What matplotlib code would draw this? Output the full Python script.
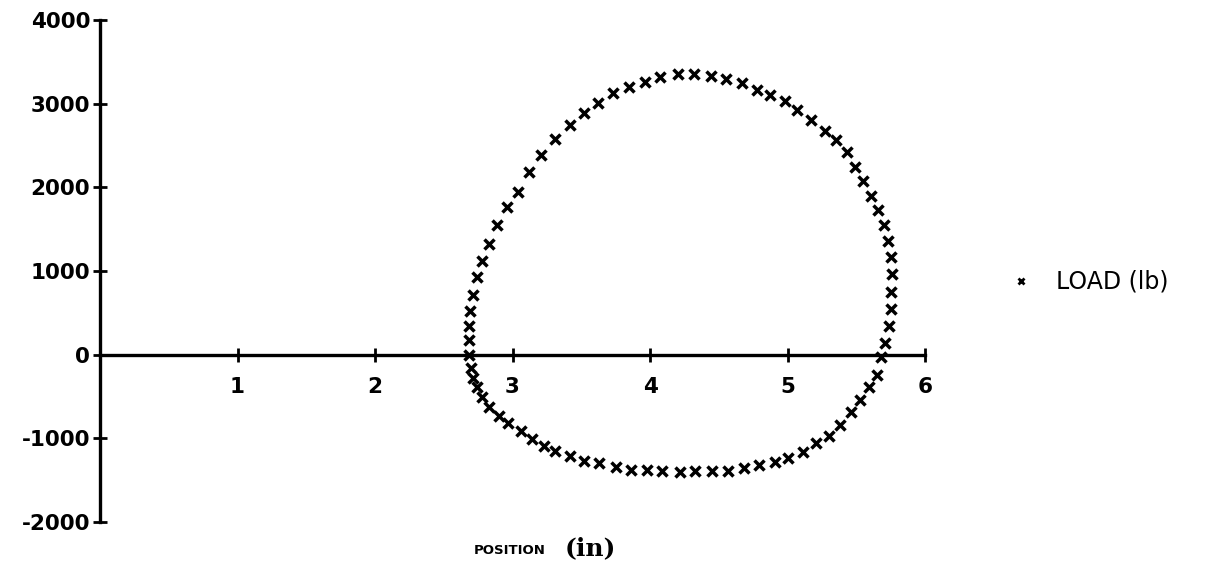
import matplotlib
matplotlib.use("Agg")
import matplotlib.pyplot as plt
from matplotlib.lines import Line2D

# Position (in) and load (lb)
position = [2.68, 2.68, 2.68, 2.69, 2.71, 2.74, 2.78, 2.83, 2.89, 2.96,
            3.04, 3.12, 3.21, 3.31, 3.42, 3.52, 3.62, 3.73, 3.85, 3.96,
            4.07, 4.20, 4.32, 4.44, 4.55, 4.67, 4.78, 4.87, 4.98, 5.07,
            5.17, 5.27, 5.35, 5.43, 5.49, 5.55, 5.61, 5.66, 5.70, 5.73,
            5.75, 5.76, 5.75, 5.75, 5.74, 5.71, 5.68, 5.65, 5.59, 5.53,
            5.46, 5.38, 5.30, 5.21, 5.11, 5.00, 4.91, 4.79, 4.68, 4.57,
            4.45, 4.33, 4.22, 4.09, 3.98, 3.86, 3.75, 3.63, 3.52, 3.42,
            3.31, 3.23, 3.14, 3.06, 2.97, 2.90, 2.83, 2.78, 2.74, 2.71,
            2.70]
load = [0, 176, 339, 526, 714, 925, 1116, 1324, 1555, 1762,
        1950, 2189, 2389, 2572, 2748, 2891, 3006, 3126, 3197, 3257,
        3317, 3349, 3358, 3325, 3289, 3245, 3166, 3106, 3030, 2927,
        2807, 2679, 2560, 2420, 2249, 2073, 1902, 1731, 1555, 1364,
        1172, 965, 754, 547, 347, 140, -30, -239, -391, -542,
        -690, -837, -969, -1061, -1169, -1236, -1280, -1316, -1360, -1388,
        -1396, -1396, -1408, -1396, -1379, -1379, -1348, -1300, -1268, -1217,
        -1154, -1094, -1008, -915, -813, -730, -628, -511, -391, -281,
        -161]

x_ticks = [1, 2, 3, 4, 5, 6]
y_ticks = [-2000, -1000, 0, 1000, 2000, 3000, 4000]
series_label = "LOAD (lb)"

W, H = 1211, 571
fig = plt.figure(figsize=(W / 100, H / 100), dpi=100)
ax = fig.add_axes([100 / W, (H - 522) / H, 825 / W, (522 - 20) / H])

ax.plot(position, load, linestyle="none", marker="x", color="black",
        markersize=6.5, markeredgewidth=2.5, label=series_label, clip_on=False)

ax.set_xlim(0, 6)
ax.set_ylim(-2000, 4000)
for s in ["top", "right"]:
    ax.spines[s].set_visible(False)
ax.spines["bottom"].set_position(("data", 0))
ax.spines["bottom"].set_linewidth(2.4)
ax.spines["left"].set_linewidth(2.4)

ax.set_xticks(x_ticks)
ax.set_yticks(y_ticks)
ax.set_xticklabels([str(t) for t in x_ticks])
ax.set_yticklabels([str(t) for t in y_ticks])
ax.tick_params(axis="both", direction="inout", length=10, width=2.0,
               labelsize=15.5, colors="black")
ax.tick_params(axis="x", pad=11)
ax.tick_params(axis="y", pad=2)
for lab in ax.get_xticklabels() + ax.get_yticklabels():
    lab.set_fontweight("bold")
    lab.set_family("DejaVu Sans")

# Legend
handle = Line2D([], [], linestyle="none", marker="x", color="black",
                markersize=5, markeredgewidth=2.0)
fig.legend([handle], [series_label], loc="center left",
           bbox_to_anchor=(988 / W, 1 - 282 / H), frameon=False,
           prop={"size": 17, "family": "DejaVu Sans"},
           handlelength=1.0, handletextpad=1.0)

# X axis title
fig.text(510 / W, 1 - 550 / H, "POSITION", ha="center", va="center",
         fontsize=9.5, fontweight="bold", family="DejaVu Sans")
fig.text(590 / W, 1 - 548 / H, "(in)", ha="center", va="center",
         fontsize=18, fontweight="bold", family="DejaVu Serif")

fig.savefig("out.png", dpi=100)
